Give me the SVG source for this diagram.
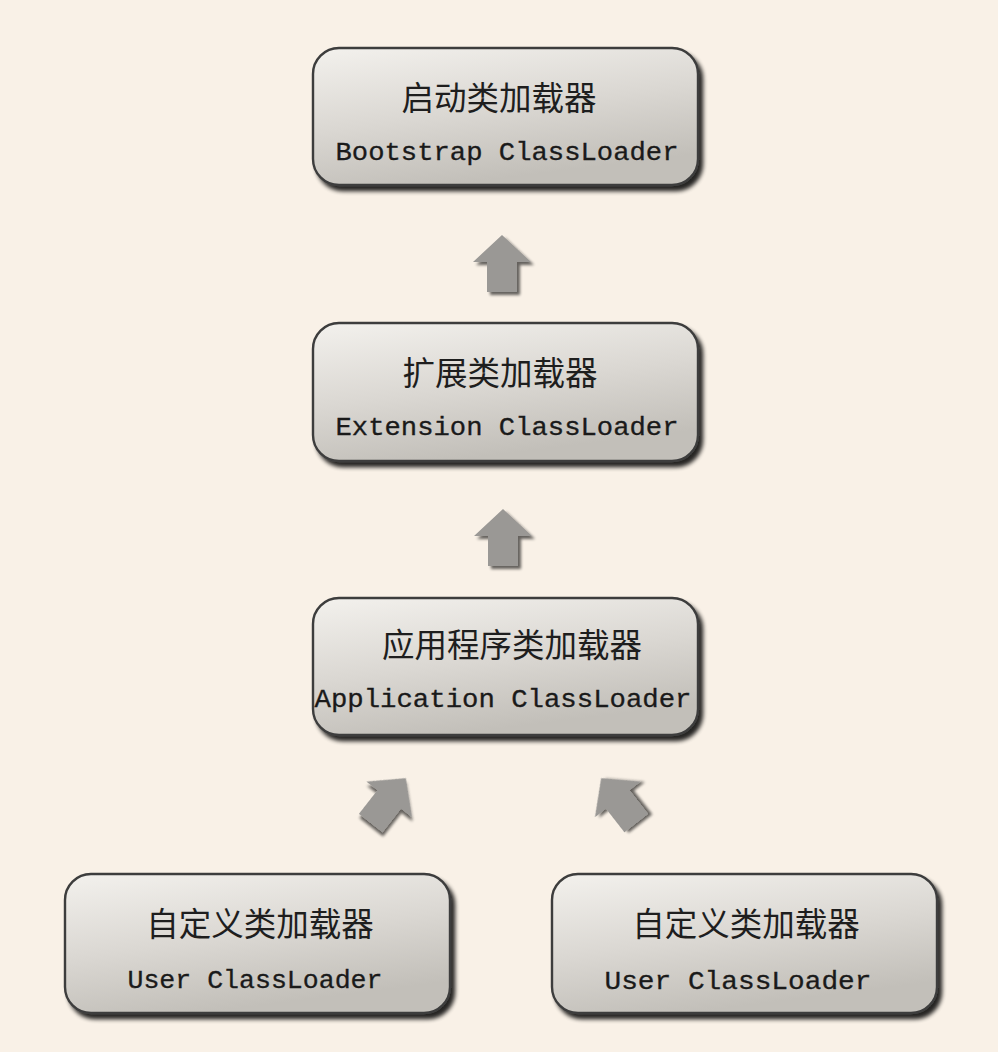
<svg xmlns="http://www.w3.org/2000/svg" width="998" height="1052" viewBox="0 0 998 1052">
  <defs>
    <linearGradient id="boxFill" x1="0" y1="0" x2="0.35" y2="1">
      <stop offset="0" stop-color="#f3f1ed"/>
      <stop offset="0.55" stop-color="#dad7d2"/>
      <stop offset="1" stop-color="#c2bfb9"/>
    </linearGradient>
    <filter id="boxShadow" x="-5%" y="-5%" width="115%" height="120%">
      <feGaussianBlur in="SourceAlpha" stdDeviation="2"/>
      <feOffset dx="4" dy="5" result="b"/>
      <feComponentTransfer><feFuncA type="linear" slope="0.85"/></feComponentTransfer>
      <feMerge><feMergeNode/><feMergeNode in="SourceGraphic"/></feMerge>
    </filter>
    <filter id="arrowShadow" x="-30%" y="-30%" width="170%" height="170%">
      <feGaussianBlur in="SourceGraphic" stdDeviation="0.6" result="soft"/>
      <feGaussianBlur in="SourceAlpha" stdDeviation="1.5"/>
      <feOffset dx="3" dy="3"/>
      <feComponentTransfer><feFuncA type="linear" slope="0.6"/></feComponentTransfer>
      <feMerge><feMergeNode/><feMergeNode in="soft"/></feMerge>
    </filter>
    <!-- block arrow pointing up, centred on the origin -->
    <path id="upArrow" d="M0,-29 L29,-2 L15,-2 L15,28 L-15,28 L-15,-2 L-29,-2 Z"/>
  </defs>
  <style>
    .box { fill: url(#boxFill); stroke: #3c3c3c; stroke-width: 2.4; filter: url(#boxShadow); }
    .zh { font-family: "Noto Sans CJK SC", "Noto Sans", sans-serif; font-size: 32.5px; font-weight: 400; fill: #1e1e1e; text-anchor: middle; }
    .en { font-family: "Liberation Mono", "DejaVu Sans Mono", monospace; font-size: 25px; fill: #1a1a1a; stroke: #1a1a1a; stroke-width: 0.3; text-anchor: middle; }
    .arrow { fill: #9a9895; filter: url(#arrowShadow); }
  </style>

  <rect width="998" height="1052" fill="#f9f1e7"/>

  <g id="connectors">
    <use href="#upArrow" class="arrow" transform="translate(502,264)"/>
    <use href="#upArrow" class="arrow" transform="translate(503,538)"/>
    <use href="#upArrow" class="arrow" transform="translate(388,801) rotate(38)"/>
    <use href="#upArrow" class="arrow" transform="translate(619,801) rotate(-38)"/>
  </g>

  <g id="bootstrap">
    <rect class="box" x="313" y="48" width="385" height="137" rx="26"/>
    <text class="zh" x="499" y="110">启动类加载器</text>
    <text class="en" x="507" y="160" textLength="343" lengthAdjust="spacingAndGlyphs">Bootstrap ClassLoader</text>
  </g>

  <g id="extension">
    <rect class="box" x="313" y="323" width="385" height="138" rx="26"/>
    <text class="zh" x="500" y="385">扩展类加载器</text>
    <text class="en" x="507" y="435" textLength="343" lengthAdjust="spacingAndGlyphs">Extension ClassLoader</text>
  </g>

  <g id="application">
    <rect class="box" x="313" y="598" width="385" height="137" rx="26"/>
    <text class="zh" x="512" y="657">应用程序类加载器</text>
    <text class="en" x="503" y="707" textLength="377" lengthAdjust="spacingAndGlyphs">Application ClassLoader</text>
  </g>

  <g id="user-left">
    <rect class="box" x="65" y="874" width="385" height="139" rx="26"/>
    <text class="zh" x="260" y="936">自定义类加载器</text>
    <text class="en" x="255" y="988" textLength="255" lengthAdjust="spacingAndGlyphs">User ClassLoader</text>
  </g>

  <g id="user-right">
    <rect class="box" x="552" y="874" width="385" height="139" rx="26"/>
    <text class="zh" x="746" y="936">自定义类加载器</text>
    <text class="en" x="738" y="989" textLength="267" lengthAdjust="spacingAndGlyphs">User ClassLoader</text>
  </g>
</svg>
